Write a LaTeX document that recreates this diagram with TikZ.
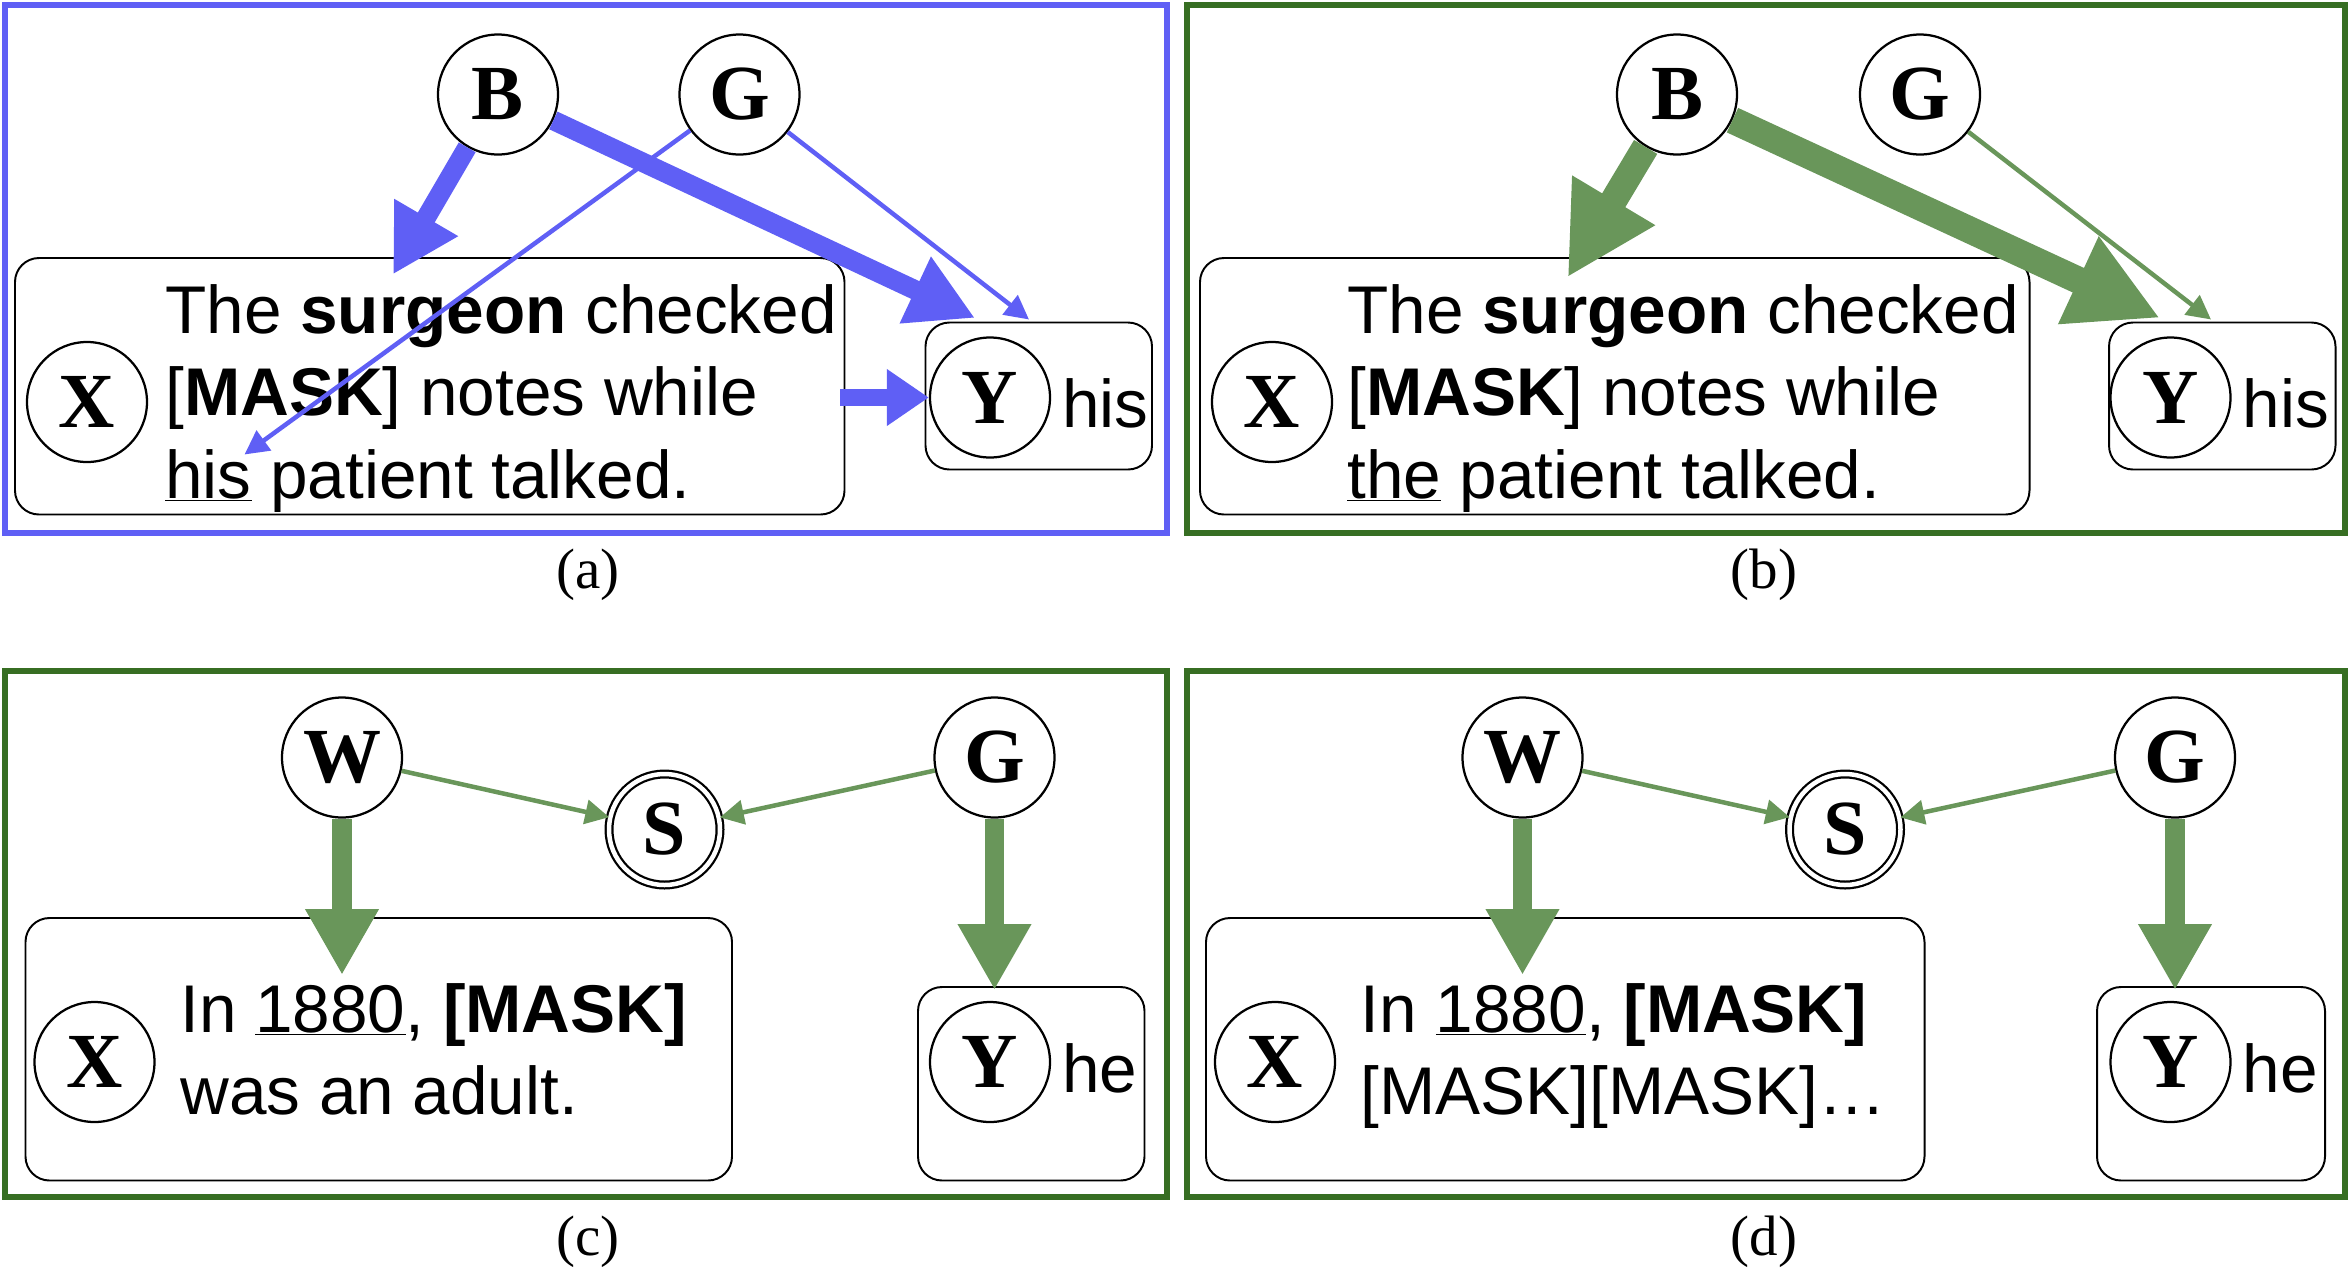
\documentclass[tikz,border=0pt]{standalone}
\usepackage{fontspec}
\setmainfont{Liberation Serif}
\newfontfamily\sent{Liberation Sans}
\usetikzlibrary{arrows.meta}
\definecolor{bl}{RGB}{95,95,245}
\definecolor{gr}{RGB}{105,150,90}
\definecolor{gb}{RGB}{55,110,35}
\tikzset{
 var/.style={circle,draw,line width=1.5pt,minimum size=80pt,inner sep=0pt,font=\fontsize{52}{56}\selectfont\bfseries},
 sv/.style={var,double,double distance=3pt,minimum size=74pt},
 tbox/.style={draw,line width=1.3pt,rounded corners=16pt},
 st/.style={anchor=base west,inner sep=0pt,font=\sent\fontsize{45}{50}\selectfont},
 captxt/.style={font=\fontsize{38}{42}\selectfont},
 thinar/.style={line width=3pt,-{Triangle[length=16pt,width=16pt]}},
 midar/.style={line width=13pt,-{Triangle[length=44pt,width=46pt]}},
 bigar/.style={line width=18pt,-{Triangle[length=60pt,width=60pt]}},
}
\begin{document}
\begin{tikzpicture}[x=1pt,y=-1pt]
\useasboundingbox (0,0) rectangle (1568,855);
% frames
\draw[bl,line width=4pt] (3,3) rectangle (778,355);
\draw[gb,line width=4pt] (791,3) rectangle (1563,355);
\draw[gb,line width=4pt] (3,447) rectangle (778,798);
\draw[gb,line width=4pt] (791,447) rectangle (1563,798);
\node[captxt] (ca) at (392,383) {(a)};
\node[captxt] (cb) at (1176,383) {(b)};
\node[captxt] (cc) at (392,828) {(c)};
\node[captxt] (cd) at (1176,828) {(d)};
% ---- (a)
\draw[tbox] (10,172) rectangle (563,343);
\draw[tbox] (617,215) rectangle (768,313);
\node[var] (aB) at (332,63) {B};
\node[var] (aG) at (493,63) {G};
\node[var] (aX) at (58,268) {X};
\node[var] (aY) at (660,265) {Y};
\node[st] (aL1) at (110,222) {The \textbf{surgeon} checked};
\node[st] (aL2) at (110,277) {[\textbf{MASK}] notes while};
\node[st] (aL3) at (110,332) {\underline{his} patient talked.};
\node[st] (aH) at (708,285) {his};
\coordinate (aBX) at (262,183);
\coordinate (aBY) at (650,212);
\coordinate (aGY) at (686,213);
\coordinate (aGH) at (163,303);
\coordinate (aXo) at (560,265);
\draw[bl,midar] (aB) -- (aBX);
\draw[bl,midar] (aB) -- (aBY);
\draw[bl,thinar] (aG) -- (aGY);
\draw[bl,thinar] (aG) -- (aGH);
\draw[bl,line width=11pt,-{Triangle[length=28pt,width=36pt]}] (aXo) -- (aY);
% ---- (b)
\draw[tbox] (800,172) rectangle (1353,343);
\draw[tbox] (1406,215) rectangle (1557,313);
\node[var] (bB) at (1118,63) {B};
\node[var] (bG) at (1280,63) {G};
\node[var] (bX) at (848,268) {X};
\node[var] (bY) at (1447,265) {Y};
\node[st] (bL1) at (898,222) {The \textbf{surgeon} checked};
\node[st] (bL2) at (898,277) {[\textbf{MASK}] notes while};
\node[st] (bL3) at (898,332) {\underline{the} patient talked.};
\node[st] (bH) at (1495,285) {his};
\coordinate (bBX) at (1045,185);
\coordinate (bBY) at (1440,212);
\coordinate (bGY) at (1474,213);
\draw[gr,bigar] (bB) -- (bBX);
\draw[gr,bigar] (bB) -- (bBY);
\draw[gr,thinar] (bG) -- (bGY);
% ---- (c)
\draw[tbox] (17,612) rectangle (488,787);
\draw[tbox] (612,658) rectangle (763,787);
\node[var] (cW) at (228,505) {W};
\node[sv] (cS) at (443,553) {S};
\node[var] (cG) at (663,505) {G};
\node[var] (cX) at (63,708) {X};
\node[var] (cY) at (660,708) {Y};
\node[st] (cL1) at (120,688) {In \underline{1880}, \textbf{[MASK]}};
\node[st] (cL2) at (120,743) {was an adult.};
\node[st] (cH) at (708,728) {he};
\coordinate (cWd) at (228,650);
\coordinate (cGd) at (663,660);
\draw[gr,thinar] (cW) -- (cS);
\draw[gr,thinar] (cG) -- (cS);
\draw[gr,midar] (cW) -- (cWd);
\draw[gr,midar] (cG) -- (cGd);
% ---- (d)
\draw[tbox] (804,612) rectangle (1283,787);
\draw[tbox] (1398,658) rectangle (1550,787);
\node[var] (dW) at (1015,505) {W};
\node[sv] (dS) at (1230,553) {S};
\node[var] (dG) at (1450,505) {G};
\node[var] (dX) at (850,708) {X};
\node[var] (dY) at (1447,708) {Y};
\node[st] (dL1) at (907,688) {In \underline{1880}, \textbf{[MASK]}};
\node[st] (dL2) at (907,743) {[MASK][MASK]…};
\node[st] (dH) at (1495,728) {he};
\coordinate (dWd) at (1015,650);
\coordinate (dGd) at (1450,660);
\draw[gr,thinar] (dW) -- (dS);
\draw[gr,thinar] (dG) -- (dS);
\draw[gr,midar] (dW) -- (dWd);
\draw[gr,midar] (dG) -- (dGd);
\end{tikzpicture}
\end{document}
